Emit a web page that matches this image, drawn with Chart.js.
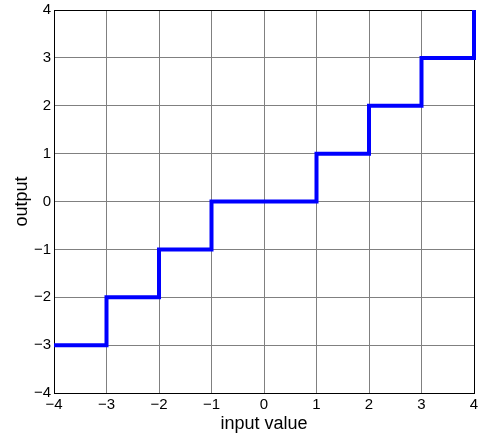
<!DOCTYPE html>
<html>
<head>
<meta charset="utf-8">
<script src="https://cdn.jsdelivr.net/npm/chart.js@4/dist/chart.umd.min.js"></script>
<style>
    body { margin: 0; background: #fff; }
    canvas { display: block; }
</style>
</head>
<body>
<canvas id="stepChart" width="480" height="440"></canvas>
<script>
// step edges of the round-toward-zero curve and the level reached at each one
const inputSteps = [-4, -3, -2, -1, 1, 2, 3, 4];
const outputLevels = [-3, -2, -1, 0, 1, 2, 3, 4];
const xTicks = [-4, -3, -2, -1, 0, 1, 2, 3, 4];
const yTicks = [-4, -3, -2, -1, 0, 1, 2, 3, 4];

const FONT = "'Liberation Sans', Arial, Helvetica, sans-serif";

function minusLabel(value) {
    return value < 0 ? '\u2212' + Math.abs(value) : String(value);
}

// black box around the plot area (top and right sides)
const frame = {
    id: 'frame',
    beforeDatasetsDraw(chart) {
        const a = chart.chartArea;
        const c = chart.ctx;
        c.save();
        c.strokeStyle = '#000';
        c.lineWidth = 1;
        c.strokeRect(Math.round(a.left) + 0.5, Math.round(a.top) + 0.5,
            Math.round(a.right - a.left), Math.round(a.bottom - a.top));
        c.restore();
    }
};

const points = inputSteps.map((x, i) => ({ x: x, y: outputLevels[i] }));

new Chart(document.getElementById('stepChart'), {
    type: 'line',
    data: {
        datasets: [{
            data: points,
            borderColor: '#0000ff',
            borderWidth: 4,
            pointRadius: 0,
            stepped: 'before',
            fill: false,
            clip: false
        }]
    },
    options: {
        responsive: false,
        animation: false,
        layout: { padding: { top: 10, right: 6, left: 0, bottom: 0 } },
        plugins: {
            legend: { display: false },
            tooltip: { enabled: false }
        },
        scales: {
            x: {
                type: 'linear',
                min: -4,
                max: 4,
                afterBuildTicks: s => { s.ticks = xTicks.map(v => ({ value: v })); },
                afterFit: s => {
                    s.height = 47;
                    s.paddingLeft = 0;
                    s.paddingRight = 0;
                },
                grid: { color: '#808080', lineWidth: 1, drawTicks: false },
                border: { color: '#000', width: 1 },
                ticks: {
                    autoSkip: false,
                    maxRotation: 0,
                    padding: 3,
                    color: '#000',
                    font: { family: FONT, size: 15 },
                    callback: minusLabel
                },
                title: {
                    display: true,
                    text: 'input value',
                    color: '#000',
                    font: { family: FONT, size: 18 },
                    padding: { top: 0, bottom: 5 }
                }
            },
            y: {
                type: 'linear',
                min: -4,
                max: 4,
                afterBuildTicks: s => { s.ticks = yTicks.map(v => ({ value: v })); },
                afterFit: s => {
                    s.width = 54;
                    s.paddingTop = 0;
                    s.paddingBottom = 0;
                },
                grid: { color: '#808080', lineWidth: 1, drawTicks: false },
                border: { color: '#000', width: 1 },
                ticks: {
                    autoSkip: false,
                    padding: 3,
                    color: '#000',
                    font: { family: FONT, size: 15 },
                    callback: minusLabel
                },
                title: {
                    display: true,
                    text: 'output',
                    color: '#000',
                    font: { family: FONT, size: 18 },
                    padding: { top: 11, bottom: 0 }
                }
            }
        }
    },
    plugins: [frame]
});
</script>
</body>
</html>
